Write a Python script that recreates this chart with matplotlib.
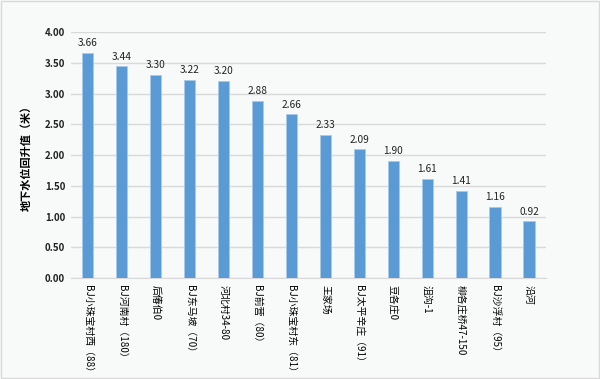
import matplotlib
matplotlib.use('Agg')
import matplotlib.pyplot as plt

plt.rcParams['font.family'] = ['Noto Sans CJK SC', 'DejaVu Sans']

# 监测点与回升值
sites = ['BJ小珠宝村西（88）', 'BJ河南村（180）', '后偆伯0', 'BJ东马坡（70）',
         '河北村34-80', 'BJ前营（80）', 'BJ小珠宝村东（81）', '王家场',
         'BJ太平辛庄（91）', '豆各庄0', '沮沟-1', '柳各庄桥47-150',
         'BJ沙浮村（95）', '沿河']
values = [3.66, 3.44, 3.30, 3.22, 3.20, 2.88, 2.66, 2.33, 2.09, 1.90, 1.61, 1.41, 1.16, 0.92]
yticks = [0, 0.5, 1.0, 1.5, 2.0, 2.5, 3.0, 3.5, 4.0]

bg = '#F8F9F9'
fig = plt.figure(figsize=(6, 3.79), dpi=100, facecolor=bg)
ax = fig.add_axes([0.118, 0.2665, 0.792, 0.649], facecolor=bg)

x = range(len(sites))
bars = ax.bar(x, values, width=0.33, color='#5B9BD5', edgecolor='#A9C9EA', linewidth=0.6, zorder=3)

for xi, v in zip(x, values):
    ax.text(xi, v + 0.08, '%.2f' % v, ha='center', va='bottom', fontsize=7.3, color='#222222')

ax.set_xlim(-0.5, len(sites) - 0.5)
ax.set_ylim(0, 4)
ax.set_yticks(yticks)
ax.set_yticklabels(['%.2f' % t for t in yticks], fontsize=7, fontweight='bold', color='#222222')
ax.set_xticks(list(x))
ax.set_xticklabels(sites, rotation=270, fontsize=7.1, va='top', ha='center')
ax.tick_params(axis='both', length=0, pad=4)
ax.tick_params(axis='x', pad=5)

ax.grid(axis='y', color='#D9D9D9', linewidth=1, zorder=0)
for s in ['top', 'right', 'left']:
    ax.spines[s].set_visible(False)
ax.spines['bottom'].set_color('#D9D9D9')

ax.set_ylabel('地下水位回升值（米）', fontsize=8, fontweight='bold', labelpad=8)
ax.yaxis.set_label_coords(-0.08, 0.5)

# 外边框
fig.patches.append(plt.Rectangle((0.002, 0.003), 0.996, 0.994, transform=fig.transFigure,
                                 fill=False, edgecolor='#D9D9D9', linewidth=1))

fig.savefig('out.png', dpi=100, facecolor=bg)
